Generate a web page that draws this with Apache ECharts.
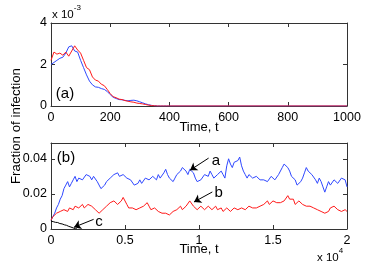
<!DOCTYPE html>
<html><head><meta charset="utf-8">
<script src="https://cdn.jsdelivr.net/npm/echarts@6/dist/echarts.min.js"></script>
<style>html,body{margin:0;padding:0;background:#fff}#c{width:382px;height:273px}</style>
</head><body><div id="c"></div>
<script>
// ---- Panel (a): fraction of infection, in units of 1e-3 ----
const topT = [0,10,20,30,40,50,60,70,80,90,100,110,120,130,140,150,160,170,180,190,200,210,220,230,240,250,260,270,280,290,300,310,320,330,340,350,360,370,380,390,400,1000];
const topRed = [2.2,2.6,2.5,2.55,2.45,2.6,2.4,2.65,2.9,2.7,2.55,2.2,1.85,1.75,1.4,1.25,1.2,1.05,0.98,0.8,0.6,0.45,0.4,0.33,0.31,0.26,0.23,0.2,0.18,0.14,0.12,0.1,0.07,0.04,0.02,0.01,0,0,0,0,0,0];
const topBlue = [2.0,2.1,2.2,2.3,2.35,2.55,2.85,2.9,2.65,2.6,2.2,1.85,1.5,1.2,1.02,0.92,0.9,0.84,0.8,0.7,0.55,0.42,0.36,0.31,0.3,0.27,0.25,0.27,0.28,0.25,0.2,0.15,0.1,0.06,0.03,0.01,0,0,0,0,0,0];

// ---- Panel (b) ----
const botT = [
  0,125,250,375,500,625,750,875,
  1000,1125,1250,1375,1500,1625,1750,1875,
  2000,2125,2250,2375,2500,2625,2750,2875,
  3000,3125,3250,3375,3500,3625,3750,3875,
  4000,4125,4250,4375,4500,4625,4750,4875,
  5000,5125,5250,5375,5500,5625,5750,5875,
  6000,6125,6250,6375,6500,6625,6750,6875,
  7000,7125,7250,7375,7500,7625,7750,7875,
  8000,8125,8250,8375,8500,8625,8750,8875,
  9000,9125,9250,9375,9500,9625,9750,9875,
  10000,10125,10250,10375,10500,10625,10750,10875,
  11000,11125,11250,11375,11500,11625,11750,11875,
  12000,12125,12250,12375,12500,12625,12750,12875,
  13000,13125,13250,13375,13500,13625,13750,13875,
  14000,14125,14250,14375,14500,14625,14750,14875,
  15000,15125,15250,15375,15500,15625,15750,15875,
  16000,16125,16250,16375,16500,16625,16750,16875,
  17000,17125,17250,17375,17500,17625,17750,17875,
  18000,18125,18250,18375,18500,18625,18750,18875,
  19000,19125,19250,19375,19500,19625,19750,19875,
  20000];
const botA = [
  0.005,0.007,0.009,0.012,0.014,0.017,0.019,0.023,
  0.025,0.027,0.024,0.026,0.028,0.030,0.027,0.029,
  0.030,0.028,0.029,0.031,0.032,0.030,0.028,0.030,
  0.029,0.027,0.026,0.023,0.022,0.025,0.027,0.026,
  0.029,0.030,0.031,0.030,0.032,0.030,0.029,0.031,
  0.031,0.029,0.030,0.028,0.027,0.025,0.024,0.026,
  0.028,0.026,0.027,0.029,0.030,0.028,0.028,0.030,
  0.029,0.028,0.031,0.029,0.030,0.032,0.034,0.031,
  0.029,0.028,0.027,0.029,0.031,0.030,0.033,0.035,
  0.036,0.033,0.031,0.034,0.035,0.032,0.029,0.027,
  0.026,0.028,0.029,0.031,0.032,0.030,0.033,0.031,
  0.029,0.030,0.031,0.030,0.033,0.031,0.029,0.036,
  0.040,0.037,0.035,0.038,0.037,0.039,0.041,0.036,
  0.033,0.031,0.029,0.031,0.030,0.029,0.028,0.030,
  0.030,0.028,0.027,0.028,0.029,0.027,0.028,0.030,
  0.030,0.028,0.029,0.031,0.032,0.035,0.037,0.038,
  0.035,0.033,0.030,0.031,0.028,0.025,0.024,0.027,
  0.029,0.032,0.035,0.033,0.033,0.031,0.030,0.028,
  0.026,0.029,0.027,0.024,0.021,0.024,0.027,0.025,
  0.026,0.028,0.028,0.026,0.027,0.029,0.030,0.028,
  0.024];
const botB = [
  0.005,0.007,0.008,0.009,0.009,0.010,0.010,0.011,
  0.011,0.010,0.012,0.011,0.011,0.013,0.012,0.012,
  0.013,0.014,0.012,0.013,0.014,0.014,0.013,0.012,
  0.011,0.010,0.009,0.010,0.011,0.012,0.013,0.014,
  0.015,0.014,0.016,0.015,0.014,0.015,0.016,0.018,
  0.017,0.014,0.012,0.013,0.012,0.011,0.011,0.012,
  0.012,0.013,0.013,0.012,0.015,0.013,0.011,0.012,
  0.012,0.011,0.010,0.011,0.009,0.010,0.009,0.008,
  0.008,0.009,0.010,0.009,0.011,0.012,0.013,0.011,
  0.012,0.013,0.014,0.016,0.015,0.013,0.012,0.011,
  0.011,0.013,0.012,0.011,0.011,0.013,0.012,0.011,
  0.012,0.013,0.011,0.012,0.012,0.010,0.011,0.012,
  0.011,0.010,0.010,0.012,0.012,0.011,0.011,0.012,
  0.012,0.011,0.011,0.013,0.012,0.012,0.013,0.012,
  0.012,0.013,0.013,0.014,0.015,0.016,0.014,0.015,
  0.016,0.015,0.015,0.014,0.015,0.016,0.016,0.017,
  0.019,0.017,0.016,0.017,0.014,0.015,0.016,0.016,
  0.014,0.015,0.013,0.014,0.013,0.012,0.012,0.011,
  0.011,0.010,0.010,0.009,0.009,0.010,0.010,0.012,
  0.011,0.013,0.012,0.011,0.011,0.010,0.010,0.011,
  0.010];
const cT = [0,150,300,450,600,750,900,1050,1200,1350,1500,1650,1750];
const botC = [0.0045,0.0042,0.0038,0.0037,0.0031,0.0029,0.0024,0.0021,0.0015,0.0011,0.0006,0.0002,0.0001];

// annotation arrows [tail, head] and label positions, in data units of panel (b)
const arrowA = [[10650,0.0404],[9392,0.0335]], labelA = [11150,0.0389];
const arrowB = [[10900,0.0211],[9662,0.0154]], labelB = [11330,0.0207];
const arrowC = [[2880,0.0055],[1554,0.0010]], labelC = [3240,0.0042];

const FONT = "'Liberation Sans', Arial, Helvetica, sans-serif";
const AXC = '#333';
const BLUE = '#2f48ff', RED = '#ff1a1a';
const TICKFS = 12.5;

function zip(t, v){ return t.map((x,i)=>[x, v[i]]); }

function xAx(grid, min, max, interval, fmt, label, pos){
  return {type:'value', gridIndex:grid, min, max, interval, position:pos||'bottom',
    axisLine:{show:true, onZero:false, lineStyle:{color:AXC, width:1}},
    axisTick:{show:true, inside:true, length:4, lineStyle:{color:AXC}},
    axisLabel:{show:label, margin:5, fontSize:TICKFS, color:'#000', fontFamily:FONT, formatter:fmt},
    splitLine:{show:false}};
}
function yAx(grid, min, max, interval, fmt, label, pos){
  return {type:'value', gridIndex:grid, min, max, interval, position:pos||'left',
    axisLine:{show:true, onZero:false, lineStyle:{color:AXC, width:1}},
    axisTick:{show:true, inside:true, length:4, lineStyle:{color:AXC}},
    axisLabel:{show:label, margin:4, fontSize:TICKFS, color:'#000', fontFamily:FONT, formatter:fmt, showMaxLabel: max===4},
    splitLine:{show:false}};
}
const arrowLine = (a)=>[{coord:a[0]},{coord:a[1]}];

const chart = echarts.init(document.getElementById('c'), null, {renderer:'canvas'});
chart.setOption({
  animation:false,
  backgroundColor:'#fff',
  grid:[{left:51, top:23, width:296, height:83},{left:51, top:143, width:296, height:86}],
  xAxis:[
    xAx(0,0,1000,200,v=>String(v),true),
    xAx(0,0,1000,200,null,false,'top'),
    xAx(1,0,20000,5000,v=>String(v/10000),true),
    xAx(1,0,20000,5000,null,false,'top')
  ],
  yAxis:[
    yAx(0,0,4,2,v=>String(v),true),
    yAx(0,0,4,2,null,false,'right'),
    yAx(1,0,0.049,0.02,v=>(v===0?'0':v.toFixed(2)),true),
    yAx(1,0,0.049,0.02,null,false,'right')
  ],
  series:[
    {type:'line', xAxisIndex:0, yAxisIndex:0, data:zip(topT, topBlue), showSymbol:false, symbol:'none', lineStyle:{color:BLUE, width:1}, itemStyle:{color:BLUE}},
    {type:'line', xAxisIndex:0, yAxisIndex:0, data:zip(topT, topRed), showSymbol:false, symbol:'none', lineStyle:{color:RED, width:1}, itemStyle:{color:RED}},
    {type:'line', xAxisIndex:2, yAxisIndex:2, data:zip(botT, botA), showSymbol:false, symbol:'none', lineStyle:{color:BLUE, width:1}, itemStyle:{color:BLUE}},
    {type:'line', xAxisIndex:2, yAxisIndex:2, data:zip(botT, botB), showSymbol:false, symbol:'none', lineStyle:{color:RED, width:1}, itemStyle:{color:RED}},
    {type:'line', xAxisIndex:2, yAxisIndex:2, data:zip(cT, botC), showSymbol:false, symbol:'none', lineStyle:{color:'#000', width:1}, itemStyle:{color:'#000'},
      markLine:{silent:true, symbol:['none','arrow'], symbolSize:7, label:{show:false},
        lineStyle:{color:'#000', width:1, type:'solid'},
        data:[arrowLine(arrowA), arrowLine(arrowB), arrowLine(arrowC)]},
      markPoint:{silent:true, symbol:'circle', symbolSize:1, itemStyle:{color:'rgba(0,0,0,0)'},
        label:{show:true, position:'inside', color:'#000', fontSize:15, fontFamily:FONT, formatter:p=>p.name},
        data:[{name:'a', coord:labelA},{name:'b', coord:labelB},{name:'c', coord:labelC}]}
    }
  ],
  graphic:[
    {type:'text', left:52, top:4, style:{text:'{m|x 10}{s|-3}', fontFamily:FONT, fill:'#000',
      rich:{m:{fontSize:11.5, fontFamily:FONT, verticalAlign:'bottom', padding:[5,0,0,0]}, s:{fontSize:8, fontFamily:FONT, verticalAlign:'top'}}}},
    {type:'text', left:317, top:247, style:{text:'{m|x 10}{s|4}', fontFamily:FONT, fill:'#000',
      rich:{m:{fontSize:11.5, fontFamily:FONT, verticalAlign:'bottom', padding:[5,0,0,0]}, s:{fontSize:8, fontFamily:FONT, verticalAlign:'top'}}}},
    {type:'text', x:199, y:127, style:{text:'Time, t', fontSize:13, fontFamily:FONT, fill:'#000', textAlign:'center', textVerticalAlign:'middle'}},
    {type:'text', x:199, y:249, style:{text:'Time, t', fontSize:13, fontFamily:FONT, fill:'#000', textAlign:'center', textVerticalAlign:'middle'}},
    {type:'text', x:16, y:126, rotation:Math.PI/2, style:{text:'Fraction of infection', fontSize:13.3, fontFamily:FONT, fill:'#000', textAlign:'center', textVerticalAlign:'middle'}},
    {type:'text', x:65, y:94, style:{text:'(a)', fontSize:15, fontFamily:FONT, fill:'#000', textAlign:'center', textVerticalAlign:'middle'}},
    {type:'text', x:66, y:158, style:{text:'(b)', fontSize:15, fontFamily:FONT, fill:'#000', textAlign:'center', textVerticalAlign:'middle'}}
  ]
});
</script></body></html>
